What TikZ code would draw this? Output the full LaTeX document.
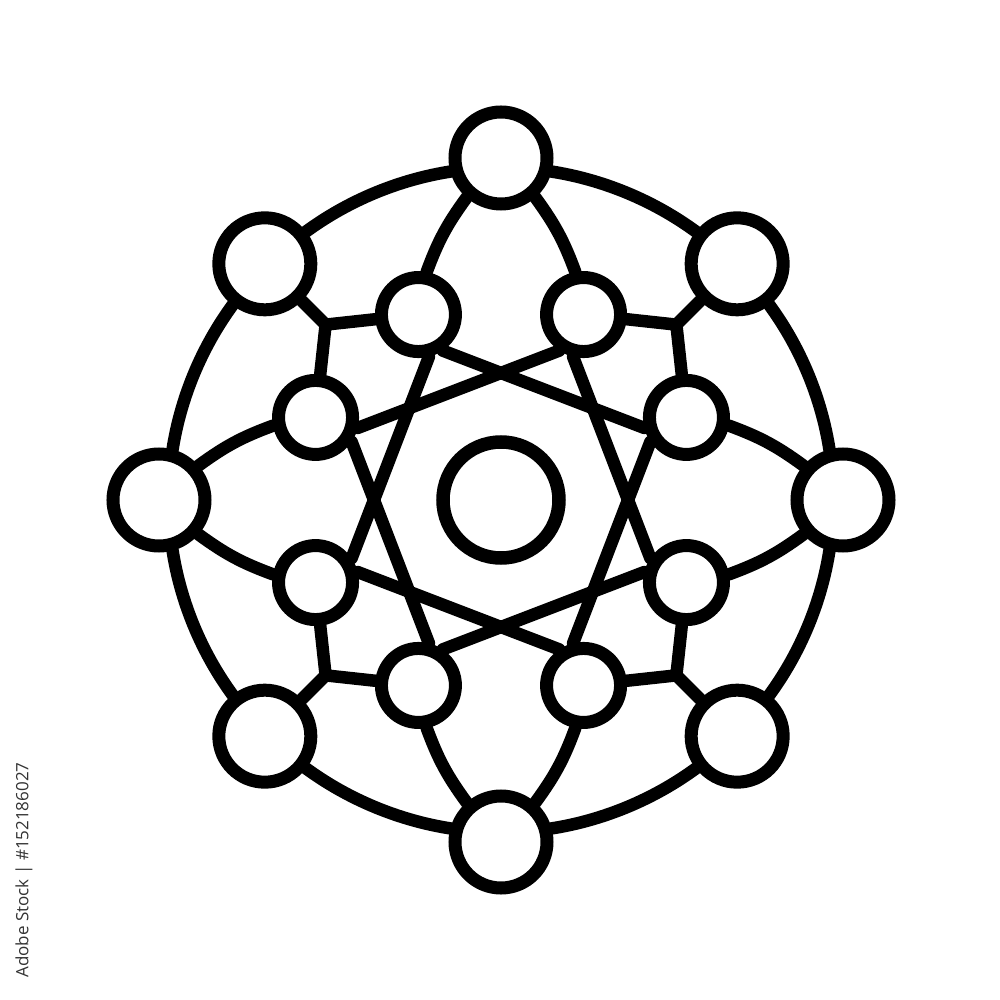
\documentclass[tikz,border=0pt]{standalone}
\usepackage{fontspec}
\newfontfamily\wmfont{Open Sans}
\begin{document}
\begin{tikzpicture}[x=1pt,y=1pt,
  big/.style={circle,draw,line width=13pt,minimum size=92pt,inner sep=0pt},
  small/.style={circle,draw,line width=13pt,minimum size=74pt,inner sep=0pt},
  link/.style={line width=12.5pt,line cap=round,line join=round},
  ring/.style={line width=12.5pt,line cap=round,bend right=13.6,looseness=0.86}
]
\useasboundingbox (-501,-500) rectangle (499,500);
% outer nodes
\node[big] (O0) at (0:342) {};
\node[big] (O1) at (45:334) {};
\node[big] (O2) at (90:342) {};
\node[big] (O3) at (135:334) {};
\node[big] (O4) at (180:342) {};
\node[big] (O5) at (225:334) {};
\node[big] (O6) at (270:342) {};
\node[big] (O7) at (315:334) {};
% inner nodes
\node[small] (S0) at (24:203) {};
\node[small] (S1) at (66:203) {};
\node[small] (S2) at (114:203) {};
\node[small] (S3) at (156:203) {};
\node[small] (S4) at (204:203) {};
\node[small] (S5) at (246:203) {};
\node[small] (S6) at (294:203) {};
\node[small] (S7) at (336:203) {};
% junctions
\coordinate (J0) at (45:248);
\coordinate (J1) at (135:248);
\coordinate (J2) at (225:248);
\coordinate (J3) at (315:248);
% centre ring
\node[circle,draw,line width=13.5pt,minimum size=116pt,inner sep=0pt] (core) at (0,0) {};
% outer ring
\draw[ring] (O0.105) to (O1.308);
\draw[ring] (O1.142) to (O2.345);
\draw[ring] (O2.195) to (O3.38);
\draw[ring] (O3.232) to (O4.75);
\draw[ring] (O4.285) to (O5.128);
\draw[ring] (O5.322) to (O6.165);
\draw[ring] (O6.15) to (O7.218);
\draw[ring] (O7.52) to (O0.255);
% axis nodes to inner nodes
\draw[link] (O0.139) to[bend right=8] (S0.349);
\draw[link] (O0.221) to[bend left=8] (S7.11);
\draw[link] (O2.229) to[bend right=8] (S2.79);
\draw[link] (O2.311) to[bend left=8] (S1.101);
\draw[link] (O4.319) to[bend right=8] (S4.169);
\draw[link] (O4.41) to[bend left=8] (S3.191);
\draw[link] (O6.49) to[bend right=8] (S6.259);
\draw[link] (O6.131) to[bend left=8] (S5.281);
% diagonal nodes via junctions
\draw[link] (O1) -- (J0);
\draw[link] (J0) -- (S0);
\draw[link] (J0) -- (S1);
\draw[link] (O3) -- (J1);
\draw[link] (J1) -- (S2);
\draw[link] (J1) -- (S3);
\draw[link] (O5) -- (J2);
\draw[link] (J2) -- (S4);
\draw[link] (J2) -- (S5);
\draw[link] (O7) -- (J3);
\draw[link] (J3) -- (S6);
\draw[link] (J3) -- (S7);
% star lines
\draw[link] (S0.194) -- (S2.304);
\draw[link] (S1.236) -- (S3.346);
\draw[link] (S2.284) -- (S4.34);
\draw[link] (S3.326) -- (S5.76);
\draw[link] (S4.14) -- (S6.124);
\draw[link] (S5.56) -- (S7.166);
\draw[link] (S6.104) -- (S0.214);
\draw[link] (S7.146) -- (S1.256);
% id text
\node[rotate=90,font=\wmfont\fontsize{17}{17}\selectfont,text=black!80,inner sep=0pt] (wm) at (-477,-370) {Adobe Stock | \#152186027};
\end{tikzpicture}
\end{document}
